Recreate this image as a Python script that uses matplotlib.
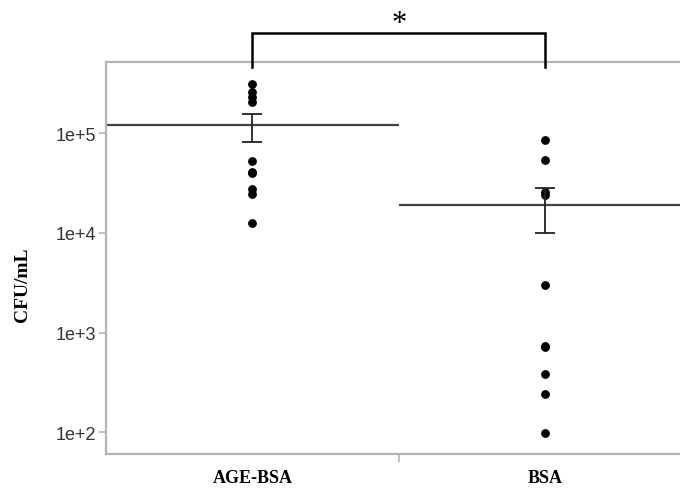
import numpy as np
import matplotlib
matplotlib.use("Agg")
import matplotlib.pyplot as plt
import matplotlib.ticker as mticker

# valores (CFU/mL)
grupos = ["AGE-BSA", "BSA"]
age_bsa = [3.1e5, 2.6e5, 2.3e5, 2.05e5, 5.3e4, 4.1e4, 4.0e4, 2.75e4, 2.45e4, 1.25e4]
bsa = [8.6e4, 5.4e4, 2.6e4, 2.4e4, 3.0e3, 7.4e2, 7.2e2, 3.8e2, 2.4e2, 98]
medias = [1.2e5, 1.92e4]
erro_sup = [1.56e5, 2.8e4]
erro_inf = [8.2e4, 1.01e4]
y_ticks = [1e2, 1e3, 1e4, 1e5]
y_labels = ["1e+2", "1e+3", "1e+4", "1e+5"]

cinza = "#b4b4b4"

fig = plt.figure(figsize=(6.8, 4.89), dpi=100)
ax = fig.add_axes([0.156, 0.0695, 0.861, 0.8016])
ax.set_yscale("log")

dados = [age_bsa, bsa]
for i, vals in enumerate(dados):
    ax.scatter(np.full(len(vals), i), vals, s=40, color="black", zorder=3, linewidths=0)
    # linha da media
    ax.hlines(medias[i], i - 0.5, i + 0.5, color="#444444", lw=1.6, zorder=2)
    # barra de erro
    ax.errorbar(i, medias[i],
                yerr=[[medias[i] - erro_inf[i]], [erro_sup[i] - medias[i]]],
                fmt="none", ecolor="#222222", elinewidth=1.3, capsize=7.5,
                capthick=1.3, zorder=4)

ax.set_xlim(-0.5, 1.5)
ax.set_ylim(60.5, 5.19e5)

ax.set_yticks(y_ticks)
ax.set_yticklabels(y_labels)
ax.yaxis.set_minor_locator(mticker.NullLocator())
ax.tick_params(axis="y", which="major", length=5, width=1.2, color=cinza,
               labelsize=13, labelcolor="#333333", pad=2)
for lbl in ax.get_yticklabels():
    lbl.set_family("Liberation Sans")

# tick do meio no eixo x, rotulos sem tick
ax.set_xticks([0.5])
ax.set_xticklabels([""])
ax.tick_params(axis="x", length=6, width=1.2, color=cinza)
for i, g in enumerate(grupos):
    ax.text(i, -0.0714, g, transform=ax.get_xaxis_transform(), ha="center",
            va="baseline", fontsize=13, fontweight="bold", family="Liberation Serif")

fig.text(22.5 / 680, 1 - 285 / 489, "CFU/mL", rotation=90, ha="center", va="center",
         fontsize=14, fontweight="bold", family="Liberation Serif")

for s in ax.spines.values():
    s.set_color(cinza)
    s.set_linewidth(1.6)

# colchete de significancia
trans = ax.get_xaxis_transform()
ax.plot([0, 0, 1, 1], [0.987, 1.074, 1.074, 0.987], color="black", lw=1.8,
        transform=trans, clip_on=False, zorder=5, solid_joinstyle="miter")
ax.text(0.5, 1.098, "*", transform=trans, ha="center", va="center",
        fontsize=22, family="Liberation Serif")

fig.savefig("out.png", dpi=100)
